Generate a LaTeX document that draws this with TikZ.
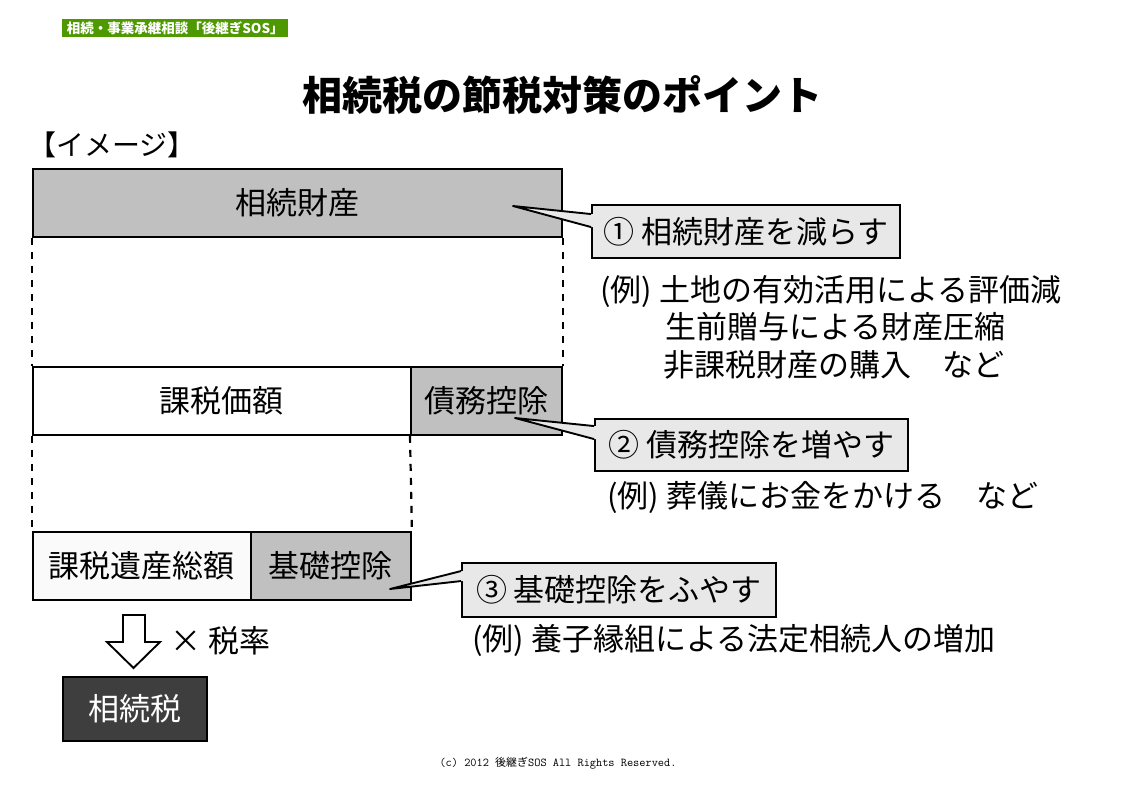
\documentclass[tikz,border=0pt]{standalone}
\usepackage{fontspec}
\setmainfont{Noto Sans CJK JP}
\usetikzlibrary{calc}
\definecolor{boxgray}{RGB}{192,192,192}
\definecolor{callgray}{RGB}{232,232,232}
\definecolor{darkbox}{RGB}{62,62,62}
\definecolor{bannergreen}{RGB}{78,152,0}
\newcommand\bodyfont{\fontsize{31}{36}\selectfont}
\begin{document}
\begin{tikzpicture}[x=1pt,y=-1pt,
  box/.style={draw=black, line width=1.9pt, inner sep=0pt, anchor=north west, minimum height=68pt, font=\bodyfont},
  callbox/.style={draw=black, fill=callgray, line width=1.9pt, inner sep=0pt, font=\bodyfont},
  wedge/.style={fill=callgray},
  wedgeline/.style={draw=black, line width=1.9pt, line join=round},
  dashline/.style={draw=black, line width=2.2pt, dash pattern=on 7pt off 7pt},
  note/.style={anchor=west, inner sep=0pt, font=\bodyfont},
]
\useasboundingbox (0,0) rectangle (1122,793);

% banner
\node[fill=bannergreen, text=white, inner sep=0pt, minimum width=226pt, minimum height=18pt, anchor=north west,
      font=\fontsize{13.5}{15}\selectfont\bfseries] (banner) at (62,19) {相続・事業承継相談「後継ぎSOS」};

% title
\node[font=\fontsize{40}{48}\selectfont\bfseries, inner sep=0pt] (title) at (562,95) {相続税の節税対策のポイント};

\node[anchor=west, inner sep=0pt, font=\fontsize{28}{32}\selectfont] (image) at (28,145) {【イメージ】};

% boxes
\node[box, fill=boxgray, minimum width=529pt] (zaisan) at (32,168) {相続財産};
\node[box, fill=white, minimum width=378pt] (kazei) at (32,366) {課税価額};
\node[box, fill=boxgray, minimum width=151pt] (saimu) at (410,366) {債務控除};
\node[box, fill=gray!4, minimum width=218pt] (isan) at (32,531) {課税遺産総額};
\node[box, fill=boxgray, minimum width=160pt] (kiso) at (250,531) {基礎控除};

% dashed guides
\draw[dashline] (zaisan.south west) -- (kazei.north west);
\draw[dashline] (zaisan.south east) -- (saimu.north east);
\draw[dashline] (kazei.south west) -- (isan.north west);
\draw[dashline] (saimu.south west) -- (kiso.north east);

% callout 1
\coordinate (t1) at (513,206);
\node[callbox, minimum width=308pt, minimum height=53pt] (c1) at (746,231.5) {① 相続財産を減らす};
\fill[wedge] (t1) -- ($(c1.north west)+(0,10)$) -- ($(c1.north west)+(4,10)$) -- ($(c1.north west)+(4,23)$) -- ($(c1.north west)+(0,23)$) -- cycle;
\draw[wedgeline] ($(c1.north west)+(0,10)$) -- (t1) -- ($(c1.north west)+(0,23)$);

% callout 2
\coordinate (t2) at (515,418);
\node[callbox, minimum width=313pt, minimum height=52pt] (c2) at (751.5,445) {② 債務控除を増やす};
\fill[wedge] (t2) -- ($(c2.north west)+(0,8)$) -- ($(c2.north west)+(4,8)$) -- ($(c2.north west)+(4,21)$) -- ($(c2.north west)+(0,21)$) -- cycle;
\draw[wedgeline] ($(c2.north west)+(0,8)$) -- (t2) -- ($(c2.north west)+(0,21)$);

% callout 3
\coordinate (t3) at (390,589);
\node[callbox, minimum width=314pt, minimum height=54pt] (c3) at (619,590) {③ 基礎控除をふやす};
\fill[wedge] (t3) -- ($(c3.north west)+(0,9)$) -- ($(c3.north west)+(4,9)$) -- ($(c3.north west)+(4,19)$) -- ($(c3.north west)+(0,19)$) -- cycle;
\draw[wedgeline] ($(c3.north west)+(0,9)$) -- (t3) -- ($(c3.north west)+(0,19)$);

% examples
\node[note] (ex1a) at (600,292) {(例) 土地の有効活用による評価減};
\node[note] (ex1b) at (665,327) {生前贈与による財産圧縮};
\node[note] (ex1c) at (663,365) {非課税財産の購入　など};
\node[note] (ex2) at (607,497) {(例) 葬儀にお金をかける　など};
\node[note] (ex3) at (472,640) {(例) 養子縁組による法定相続人の増加};

% arrow and tax box
\draw[line width=1.9pt, fill=white, line join=miter]
  (123,615) -- (145,615) -- (145,642) -- (160,642) -- (133.5,668) -- (107,642) -- (123,642) -- cycle;
\node[note] (rate) at (170,641) {× 税率};
\node[box, fill=darkbox, text=white, minimum width=144pt, minimum height=64pt] (tax) at (62,676) {相続税};

% footer
\node[inner sep=0pt, font=\fontsize{11}{13}\selectfont] (footer) at (558,763) {{\ttfamily\fontsize{12}{13}\selectfont (c) 2012 }後継ぎ{\ttfamily\fontsize{12}{13}\selectfont SOS All Rights Reserved.}};
\end{tikzpicture}
\end{document}
